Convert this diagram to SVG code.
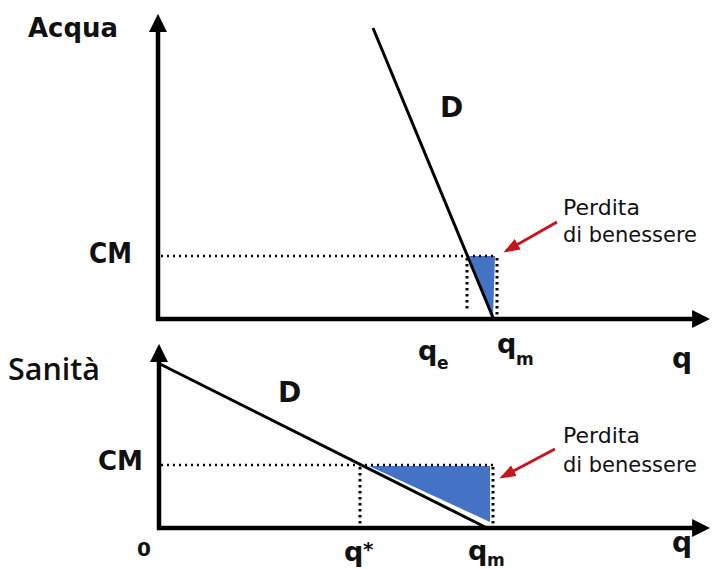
<svg xmlns="http://www.w3.org/2000/svg" width="712" height="569" viewBox="0 0 712 569">
<style>
.ax{stroke:#000;stroke-width:4.5;fill:none}
.dem{stroke:#000;stroke-width:3;fill:none}
.dot{stroke:#000;stroke-width:2.5;stroke-dasharray:2 4;fill:none}
.dotv{stroke:#000;stroke-width:3;stroke-dasharray:2.5 3.5;fill:none}
.tri{fill:#4472C4}
.red{stroke:#C8141E;stroke-width:3;fill:none}
.b{font-family:"DejaVu Sans","Liberation Sans",sans-serif;font-weight:bold;fill:#111}
.r{font-family:"DejaVu Sans","Liberation Sans",sans-serif;fill:#111}
.m{font-family:"Open Sans","DejaVu Sans",sans-serif;font-weight:600;fill:#111}
</style>
<defs>
<marker id="ah" markerWidth="4" markerHeight="4" refX="2.2" refY="2" orient="auto" markerUnits="strokeWidth">
<path d="M0,0 L4,2 L0,4 Z" fill="#000"/>
</marker>
<marker id="rh" markerWidth="5.5" markerHeight="4" refX="4.5" refY="2" orient="auto" markerUnits="strokeWidth">
<path d="M0,0 L5.5,2 L0,4 Z" fill="#C8141E"/>
</marker>
</defs>

<g id="connectors">
<!-- top chart -->
<g id="top-fill"><polygon class="tri" points="469,256 495,256 493,316"/></g>
<line class="dot" x1="161" y1="256" x2="497" y2="256"/>
<line class="dotv" x1="467" y1="258" x2="467" y2="312"/>
<line class="dotv" x1="497" y1="258" x2="497" y2="318"/>
<line class="dem" x1="373" y1="28" x2="494" y2="320"/>
<line class="ax" x1="158" y1="321" x2="158" y2="22" marker-end="url(#ah)"/>
<line class="ax" x1="156" y1="319" x2="702" y2="319" marker-end="url(#ah)"/>
<line class="red" x1="557" y1="222" x2="506" y2="251" marker-end="url(#rh)"/>

<!-- bottom chart -->
<g id="bottom-fill"><polygon class="tri" points="369,466 490,466 490,522"/></g>
<line class="dot" x1="161" y1="465" x2="493" y2="465"/>
<line class="dotv" x1="360" y1="467" x2="360" y2="526"/>
<line class="dotv" x1="493" y1="467" x2="493" y2="524"/>
<line class="dem" x1="160" y1="364" x2="487" y2="528"/>
<line class="ax" x1="159" y1="530" x2="159" y2="352" marker-end="url(#ah)"/>
<line class="ax" x1="157" y1="528" x2="702" y2="528" marker-end="url(#ah)"/>
<line class="red" x1="555" y1="449" x2="502" y2="477" marker-end="url(#rh)"/>
</g>

<g id="label-acqua"><text class="b" x="28" y="37" font-size="27" textLength="90" lengthAdjust="spacingAndGlyphs">Acqua</text></g>
<g id="label-sanita"><text class="m" x="8" y="380" font-size="30" textLength="92" lengthAdjust="spacingAndGlyphs">Sanità</text></g>
<g id="label-cm-top"><text class="b" x="89" y="263" font-size="28" textLength="43" lengthAdjust="spacingAndGlyphs">CM</text></g>
<g id="label-cm-bottom"><text class="b" x="98" y="470" font-size="27" textLength="45" lengthAdjust="spacingAndGlyphs">CM</text></g>
<g id="label-d-top"><text class="b" x="440" y="117" font-size="28">D</text></g>
<g id="label-d-bottom"><text class="b" x="278" y="402" font-size="28">D</text></g>
<g id="label-qe"><text class="b" x="418" y="360" font-size="27">q</text><text class="b" x="437" y="369" font-size="17">e</text></g>
<g id="label-qm-top"><text class="b" x="497" y="353" font-size="27">q</text><text class="b" x="516" y="365" font-size="17">m</text></g>
<g id="label-q-top"><text class="b" x="672" y="368" font-size="28">q</text></g>
<g id="label-0"><text class="b" x="137" y="556" font-size="20">0</text></g>
<g id="label-qstar"><text class="b" x="344" y="561" font-size="27">q</text><text class="b" x="363" y="556" font-size="20">*</text></g>
<g id="label-qm-bottom"><text class="b" x="468" y="560" font-size="27">q</text><text class="b" x="487" y="566" font-size="17">m</text></g>
<g id="label-q-bottom"><text class="b" x="672" y="552" font-size="28">q</text></g>
<g id="label-perdita-top"><text class="r" x="563" y="215" font-size="22">Perdita</text><text class="r" x="563" y="242" font-size="22" textLength="134" lengthAdjust="spacingAndGlyphs">di benessere</text></g>
<g id="label-perdita-bottom"><text class="r" x="563" y="443" font-size="22">Perdita</text><text class="r" x="563" y="472" font-size="22" textLength="134" lengthAdjust="spacingAndGlyphs">di benessere</text></g>
</svg>
